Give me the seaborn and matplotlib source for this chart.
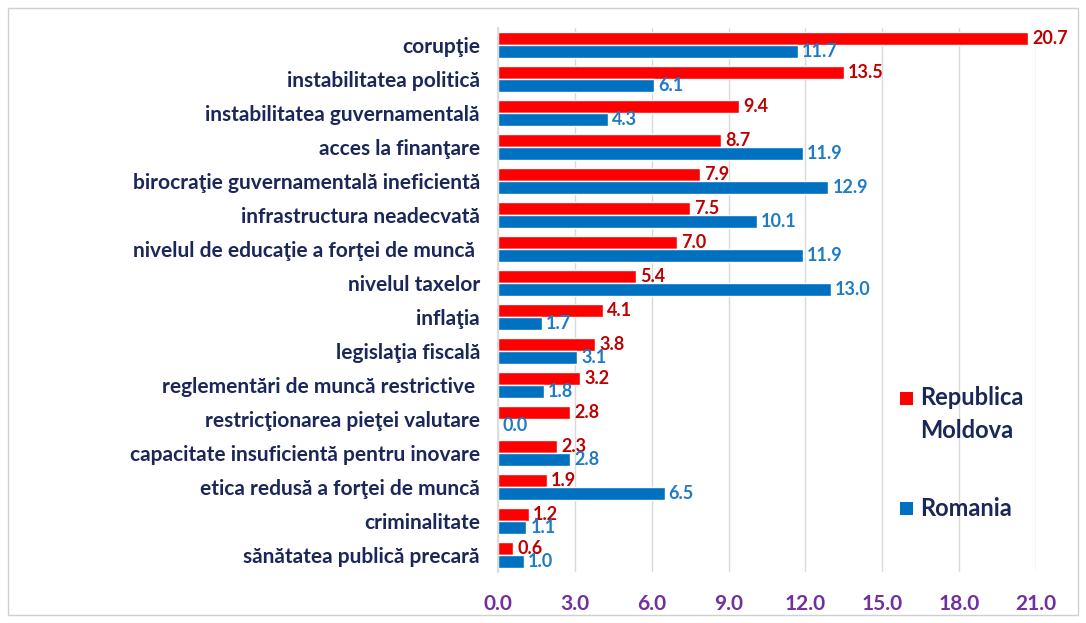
import matplotlib
matplotlib.use("Agg")
import matplotlib.pyplot as plt
import seaborn as sns
import pandas as pd
from matplotlib.patches import Rectangle

categories = [
    "corupţie",
    "instabilitatea politică",
    "instabilitatea guvernamentală",
    "acces la finanţare",
    "birocraţie guvernamentală ineficientă",
    "infrastructura neadecvată",
    "nivelul de educaţie a forţei de muncă ",
    "nivelul taxelor",
    "inflaţia",
    "legislaţia fiscală",
    "reglementări de muncă restrictive ",
    "restricţionarea pieţei valutare",
    "capacitate insuficientă pentru inovare",
    "etica redusă a forţei de muncă",
    "criminalitate",
    "sănătatea publică precară",
]
moldova = [20.7, 13.5, 9.4, 8.7, 7.9, 7.5, 7.0, 5.4, 4.1, 3.8, 3.2, 2.8, 2.3, 1.9, 1.2, 0.6]
romania = [11.7, 6.1, 4.3, 11.9, 12.9, 10.1, 11.9, 13.0, 1.7, 3.1, 1.8, 0.0, 2.8, 6.5, 1.1, 1.0]
series = ["Republica Moldova", "Romania"]
legend_labels = ["Republica\nMoldova", "Romania"]
xticks = [0.0, 3.0, 6.0, 9.0, 12.0, 15.0, 18.0, 21.0]

df = pd.DataFrame({
    "cat": categories * 2,
    "val": moldova + romania,
    "series": [series[0]] * len(categories) + [series[1]] * len(categories),
})

sns.set_theme(style="white")
plt.rcParams["font.family"] = ["Lato", "DejaVu Sans"]

navy = "#1A2758"
red = "#FF0000"
blue = "#0070C0"
red_txt = "#C00000"
blue_txt = "#1F7BC4"
purple = "#7030A0"

W, H = 1086, 623
fig = plt.figure(figsize=(W / 100, H / 100), dpi=100)
ax = fig.add_axes([498 / W, 1 - 572 / H, (1036 - 498) / W, (572 - 28) / H])

sns.barplot(data=df, y="cat", x="val", hue="series", hue_order=series,
            palette=[red, blue], orient="h", width=0.75, saturation=1,
            legend=False, ax=ax)

ax.set_xlim(0, 21)
ax.set_xticks(xticks)
ax.set_xticklabels([f"{t:.1f}" for t in xticks], color=purple, fontweight="bold", fontsize=15)
ax.tick_params(axis="x", pad=16, length=0)
ax.tick_params(axis="y", length=0, pad=13)
for lab in ax.get_yticklabels():
    lab.set_color(navy)
    lab.set_fontweight("bold")
    lab.set_fontsize(15)
ax.set_xlabel("")
ax.set_ylabel("")
ax.grid(axis="x", color="#D9D9D9", linewidth=1)
ax.set_axisbelow(True)
for s in ["top", "right", "bottom"]:
    ax.spines[s].set_visible(False)
ax.spines["left"].set_color("#D9D9D9")

for cont, col in zip(ax.containers, [red_txt, blue_txt]):
    ax.bar_label(cont, fmt="%.1f", padding=3, color=col, fontweight="bold", fontsize=13)

# legend drawn manually in figure pixel coordinates
def px(x, y):
    return x / W, 1 - y / H

for color, ytop in [(red, 392), (blue, 502)]:
    x0, y0 = px(900, ytop + 13)
    fig.patches.append(Rectangle((x0, y0), 13 / W, 13 / H, transform=fig.transFigure,
                                 facecolor=color, edgecolor="none"))
for label, (tx, ty), va in [(legend_labels[0], px(920, 386), "top"), (legend_labels[1], px(920, 508), "center")]:
    fig.text(tx, ty, label, color=navy, fontweight="bold", fontsize=17, ha="left", va=va,
             linespacing=1.55)

fig.patches.append(Rectangle((8 / W, 8 / H), 1 - 16 / W, 1 - 16 / H,
                             transform=fig.transFigure, fill=False,
                             edgecolor="#D0D0D0", linewidth=1))

fig.savefig("out.png", dpi=100)
